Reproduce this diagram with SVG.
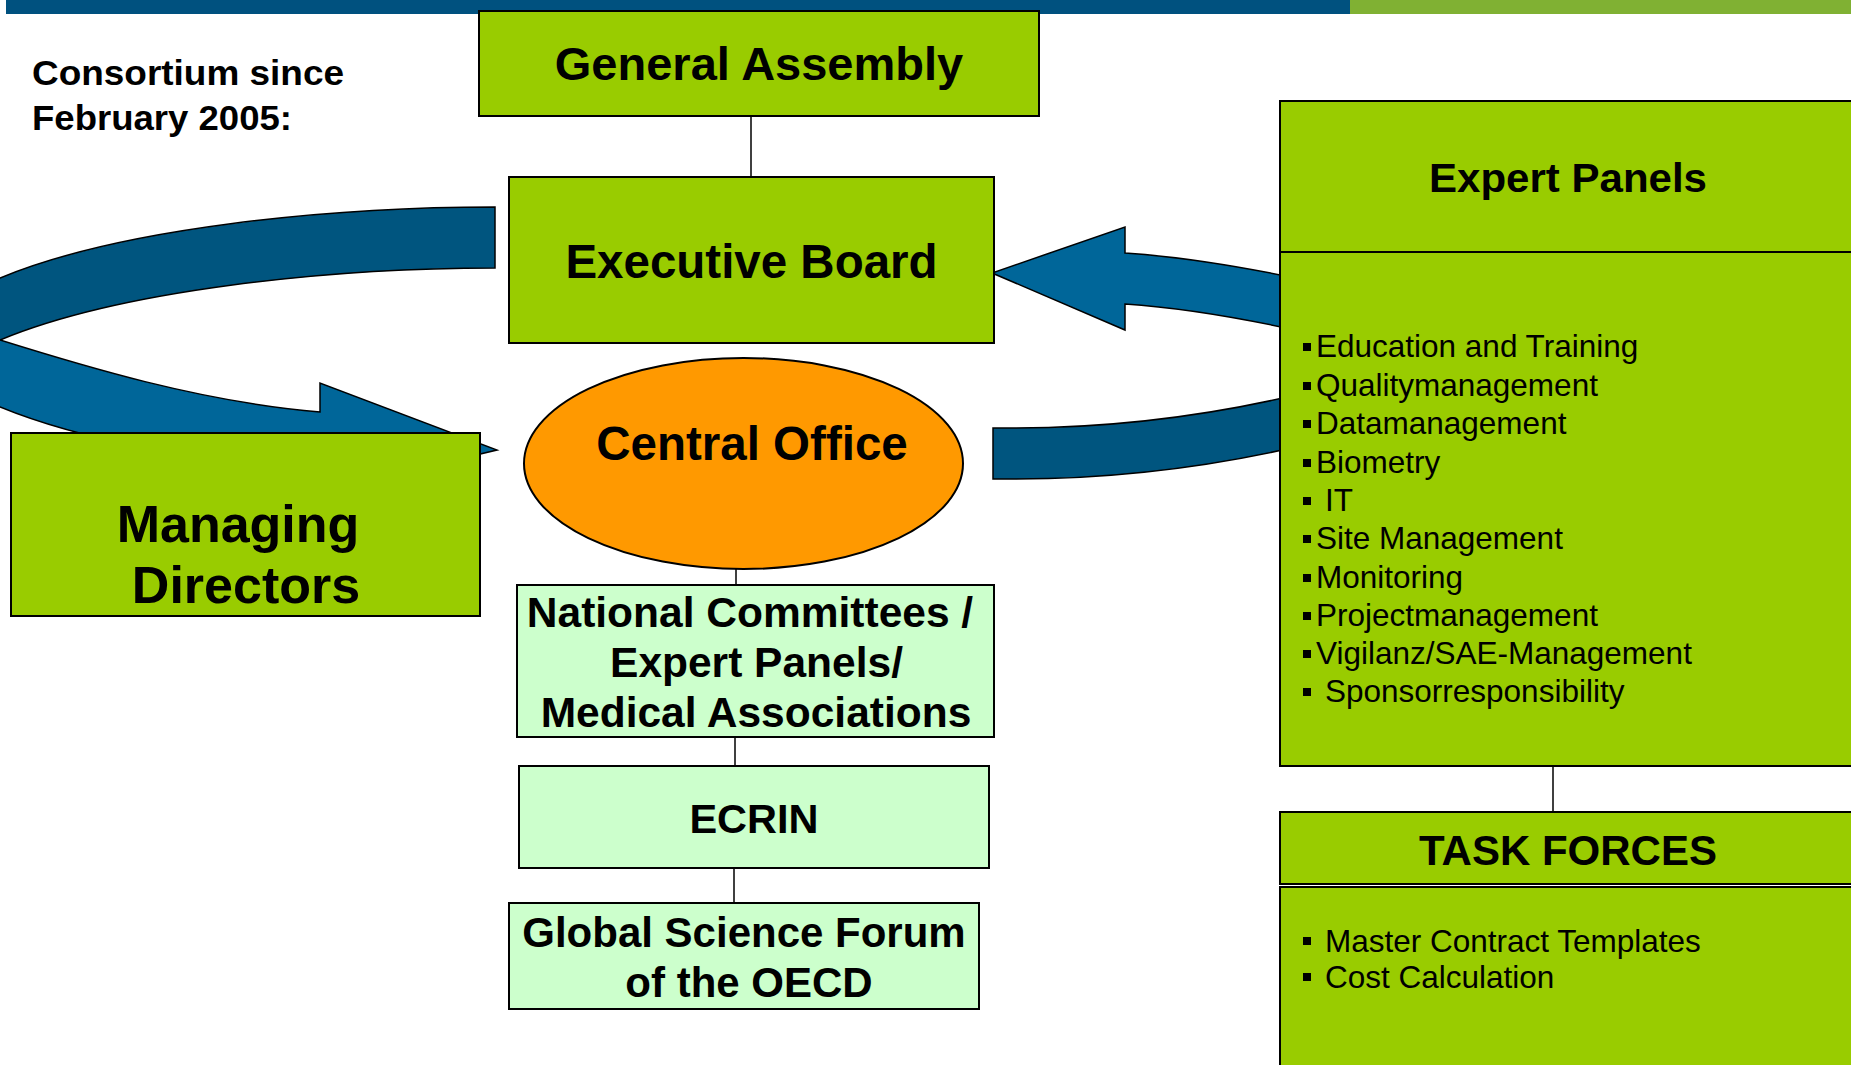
<svg xmlns="http://www.w3.org/2000/svg" width="1851" height="1065" viewBox="0 0 1851 1065">
<style>
.g{fill:#99CC00;stroke:#000;stroke-width:2}
.lg{fill:#CCFFCC;stroke:#000;stroke-width:2}
.t{font-family:"Liberation Sans",Arial,sans-serif;font-weight:bold;fill:#000;text-anchor:middle}
.l{font-family:"Liberation Sans",Arial,sans-serif;fill:#000;font-size:31.5px}
.c{stroke:#000;stroke-width:1.5;fill:none}
.ad{fill:#00557F;stroke:#000;stroke-width:1.5;stroke-linejoin:miter}
.al{fill:#006699;stroke:#000;stroke-width:1.5;stroke-linejoin:miter}
</style>
<rect x="6" y="0" width="1344" height="14" fill="#00517F"/>
<rect x="1350" y="0" width="501" height="14" fill="#80B133"/>
<text x="32" y="85" font-family="Liberation Sans, Arial, sans-serif" font-weight="bold" font-size="35" textLength="312" lengthAdjust="spacingAndGlyphs">Consortium since</text>
<text x="32" y="130" font-family="Liberation Sans, Arial, sans-serif" font-weight="bold" font-size="35" textLength="260" lengthAdjust="spacingAndGlyphs">February 2005:</text>
<g id="connectors">
<path class="ad" d="M495,207 C330,207 120,228 0,278 L-20,290 L-20,345 L0,340 C120,290 330,268 495,268 Z"/>
<path class="al" d="M-20,340 L0,340 C80,365 200,402 320,412 L320,383 L497,450 L320,492 L320,470 C200,462 80,440 0,407 L-20,400 Z"/>
<path class="al" d="M1300,279 Q1200,258 1125,253 L1125,227 L992,273 L1125,330 L1125,304 Q1200,309 1300,331 Z"/>
<path class="ad" d="M993,428 Q1150,430 1300,394 L1300,446 Q1150,481 993,479 Z"/>
<line class="c" x1="751" y1="116" x2="751" y2="177"/>
<line class="c" x1="736" y1="569" x2="736" y2="585"/>
<line class="c" x1="735" y1="737" x2="735" y2="766"/>
<line class="c" x1="734" y1="868" x2="734" y2="903"/>
<line class="c" x1="1553" y1="766" x2="1553" y2="812"/>
</g>
<g id="general-assembly">
<rect class="g" x="479" y="11" width="560" height="105"/>
<text class="t" x="759" y="80" font-size="47">General Assembly</text>
</g>
<g id="executive-board">
<rect class="g" x="509" y="177" width="485" height="166"/>
<text class="t" x="751.5" y="278" font-size="47.5">Executive Board</text>
</g>
<g id="central-office">
<ellipse cx="743.5" cy="463.5" rx="219.5" ry="105.5" fill="#FF9900" stroke="#000" stroke-width="2"/>
<text class="t" x="752" y="460" font-size="47.5">Central Office</text>
</g>
<g id="managing-directors">
<rect class="g" x="11" y="433" width="469" height="183"/>
<text class="t" x="238" y="542" font-size="52">Managing</text>
<text class="t" x="246" y="603" font-size="52">Directors</text>
</g>
<g id="national-committees">
<rect class="lg" x="517" y="585" width="477" height="152"/>
<text class="t" x="750" y="627" font-size="42.5">National Committees /</text>
<text class="t" x="756.5" y="677" font-size="42.5">Expert Panels/</text>
<text class="t" x="756" y="727" font-size="42.5">Medical Associations</text>
</g>
<g id="ecrin">
<rect class="lg" x="519" y="766" width="470" height="102"/>
<text class="t" x="754" y="833" font-size="41.5">ECRIN</text>
</g>
<g id="global-science-forum">
<rect class="lg" x="509" y="903" width="470" height="106"/>
<text class="t" x="744" y="947" font-size="42">Global Science Forum</text>
<text class="t" x="749" y="997" font-size="42">of the OECD</text>
</g>
<g id="expert-panels">
<rect class="g" x="1280" y="101" width="590" height="151"/>
<rect class="g" x="1280" y="252" width="590" height="514"/>
<text class="t" x="1568" y="192" font-size="40" textLength="278" lengthAdjust="spacingAndGlyphs">Expert Panels</text>
<g fill="#000">
<rect x="1303" y="343" width="8" height="8"/>
<rect x="1303" y="382" width="8" height="8"/>
<rect x="1303" y="420" width="8" height="8"/>
<rect x="1303" y="459" width="8" height="8"/>
<rect x="1303" y="497" width="8" height="8"/>
<rect x="1303" y="535" width="8" height="8"/>
<rect x="1303" y="574" width="8" height="8"/>
<rect x="1303" y="612" width="8" height="8"/>
<rect x="1303" y="650" width="8" height="8"/>
<rect x="1303" y="688" width="8" height="8"/>
</g>
<text class="l" x="1316" y="357">Education and Training</text>
<text class="l" x="1316" y="396">Qualitymanagement</text>
<text class="l" x="1316" y="434">Datamanagement</text>
<text class="l" x="1316" y="473">Biometry</text>
<text class="l" x="1325" y="511">IT</text>
<text class="l" x="1316" y="549">Site Management</text>
<text class="l" x="1316" y="588">Monitoring</text>
<text class="l" x="1316" y="626">Projectmanagement</text>
<text class="l" x="1316" y="664">Vigilanz/SAE-Management</text>
<text class="l" x="1325" y="702">Sponsorresponsibility</text>
</g>
<g id="task-forces">
<rect class="g" x="1280" y="812" width="590" height="72"/>
<rect class="g" x="1280" y="887" width="590" height="200"/>
<text class="t" x="1568" y="865" font-size="42">TASK FORCES</text>
<rect x="1303" y="937" width="8" height="8" fill="#000"/>
<rect x="1303" y="973" width="8" height="8" fill="#000"/>
<text class="l" x="1325" y="952" font-size="31">Master Contract Templates</text>
<text class="l" x="1325" y="988" font-size="31">Cost Calculation</text>
</g>
</svg>
